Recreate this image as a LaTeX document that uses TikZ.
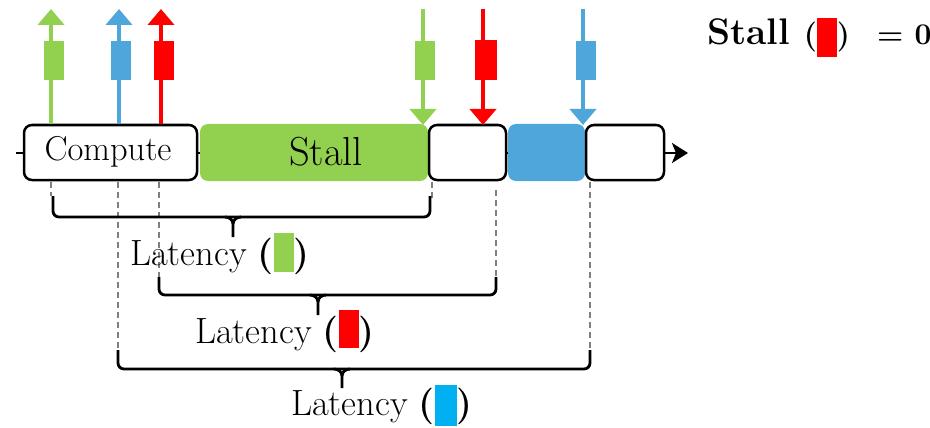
\documentclass[tikz,border=0pt]{standalone}
\usepackage{fontspec}
\usetikzlibrary{arrows.meta}
\definecolor{grn}{HTML}{92D050}
\definecolor{blu}{HTML}{4EA6DA}
\definecolor{cyn}{HTML}{00B0F0}
\definecolor{rd}{HTML}{FF0000}
\definecolor{dgray}{HTML}{7F7F7F}
\newcommand{\latfont}{\fontsize{36.5}{40}\selectfont}
\begin{document}
\begin{tikzpicture}[x=1pt,y=-1pt,
  seg/.style={draw=black, line width=2.5pt, rounded corners=8pt, fill=white,
              minimum height=55pt, inner sep=0pt},
  fillseg/.style={fill=#1, rounded corners=8pt, minimum height=57pt, inner sep=0pt},
  tok/.style={fill=#1, minimum width=20pt, minimum height=39pt, inner sep=0pt},
  sig/.style={draw=#1, line width=4pt, -{Triangle[width=26pt,length=16pt]}},
  guide/.style={draw=dgray, line width=1.8pt, dash pattern=on 6pt off 4pt},
  brace/.style={line width=2.8pt, rounded corners=6pt},
  tick/.style={line width=2.8pt},
  lbl/.style={anchor=base west, inner sep=0pt}]
\useasboundingbox (0,0) rectangle (930,428);

% time axis
\coordinate (ax0) at (16,153);
\coordinate (ax1) at (688,153);
\draw[line width=2.5pt, -{Stealth[length=16pt,width=20pt,inset=4pt]}] (ax0) -- (ax1);

% pipeline segments
\node[seg, minimum width=173pt] (comp) at (110.5,152.5) {};
\node[inner sep=0pt] (comptxt) at (108,152) {\fontsize{34.5}{38}\selectfont Compute};
\node[fillseg=grn, minimum width=228pt] (stall) at (314,152.5) {};
\node[inner sep=0pt] (stalltxt) at (326,152) {\fontsize{40.5}{44}\selectfont Stall};
\node[seg, minimum width=77pt] (w1) at (467.5,152.5) {};
\node[fillseg=blu, minimum width=77pt] (bl) at (546.5,152.5) {};
\node[seg, minimum width=78pt] (w2) at (625,152.5) {};

% outgoing requests
\coordinate (gs) at (51,124);  \coordinate (gt) at (51,9);
\coordinate (bs) at (119,124); \coordinate (bt) at (119,9);
\coordinate (rs) at (161,124); \coordinate (rt) at (161,9);
\draw[sig=grn] (gs) -- (gt);
\draw[sig=blu] (bs) -- (bt);
\draw[sig=rd]  (rs) -- (rt);
\node[tok=grn] (gu) at (54,60.5) {};
\node[tok=blu] (bu) at (120.5,60.5) {};
\node[tok=rd]  (ru) at (164,60.5) {};

% returning responses
\coordinate (gd0) at (423,9); \coordinate (gd1) at (423,125);
\coordinate (rd0) at (483,9); \coordinate (rd1) at (483,125);
\coordinate (bd0) at (583,9); \coordinate (bd1) at (583,125);
\draw[sig=grn] (gd0) -- (gd1);
\draw[sig=rd]  (rd0) -- (rd1);
\draw[sig=blu] (bd0) -- (bd1);
\node[tok=grn] (gdn) at (424.5,60.5) {};
\node[tok=rd, minimum width=22pt, minimum height=40pt] (rdn) at (486,60) {};
\node[tok=blu] (bdn) at (586,60.5) {};

% guide lines
\draw[guide] (51,182) -- (51,196);
\draw[guide] (432,182) -- (432,198);
\draw[guide] (118,182) -- (118,350);
\draw[guide] (159,182) -- (159,277);
\draw[guide] (496,190) -- (496,277);
\draw[guide] (590,182) -- (590,350);

% braces
\draw[brace] (53,196) -- (53,217) -- (430,217) -- (430,196);
\draw[tick] (225,217) to[out=0,in=90] (233,224) -- (233,237);
\draw[tick] (241,217) to[out=180,in=90] (233,224);

\draw[brace] (159,277) -- (159,295) -- (496,295) -- (496,277);
\draw[tick] (310,295) to[out=0,in=90] (318,302) -- (318,315);
\draw[tick] (326,295) to[out=180,in=90] (318,302);

\draw[brace] (118,350) -- (118,369) -- (590,369) -- (590,350);
\draw[tick] (334,369) to[out=0,in=90] (342,376) -- (342,388);
\draw[tick] (350,369) to[out=180,in=90] (342,376);

% latency labels
\node[lbl] (lg) at (130,265) {\latfont Latency \textbf{(}\textcolor{grn}{\rule[-7pt]{20pt}{39pt}}\textbf{)}};
\node[lbl] (lr) at (195,343) {\latfont Latency \textbf{(}\textcolor{rd}{\rule[-5pt]{20pt}{38pt}}\textbf{)}};
\node[lbl] (lb) at (291,415) {\latfont Latency \textbf{(}\textcolor{cyn}{\rule[-11pt]{22pt}{41pt}}\textbf{)}};

% legend
\node[lbl] (st) at (707,45) {\bfseries\fontsize{37}{40}\selectfont Stall \fontsize{30}{36}\selectfont(\textcolor{rd}{\rule[-12pt]{20pt}{39pt}})};
\node[lbl] (eq) at (877,45) {\bfseries\fontsize{30}{36}\selectfont = 0};
\end{tikzpicture}
\end{document}
